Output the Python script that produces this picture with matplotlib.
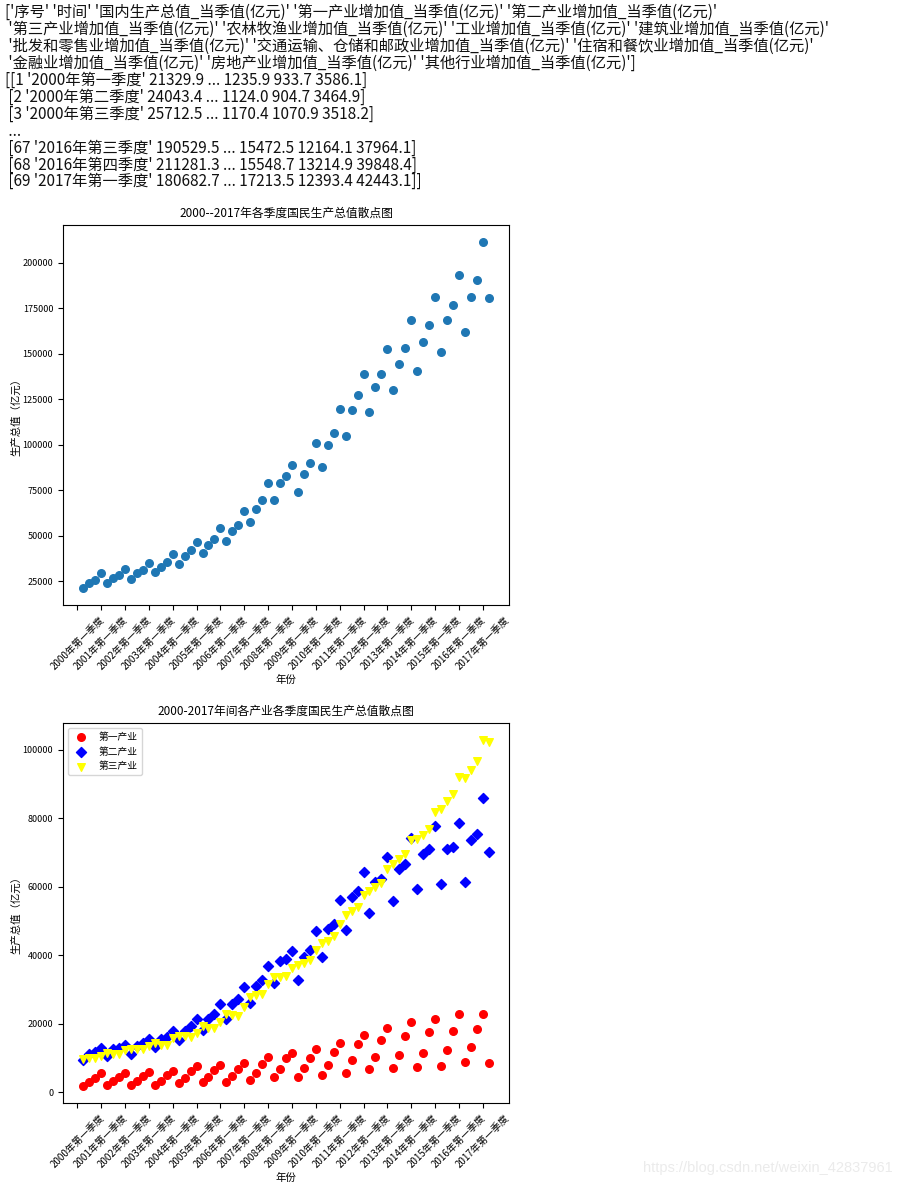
import numpy as np
import matplotlib
matplotlib.use('Agg')
import matplotlib.pyplot as plt

plt.rcParams['font.family'] = ['Noto Sans CJK SC', 'DejaVu Sans']
plt.rcParams['axes.unicode_minus'] = False

# printed output above the charts
header_lines = [
    "['序号' '时间' '国内生产总值_当季值(亿元)' '第一产业增加值_当季值(亿元)' '第二产业增加值_当季值(亿元)'",
    " '第三产业增加值_当季值(亿元)' '农林牧渔业增加值_当季值(亿元)' '工业增加值_当季值(亿元)' '建筑业增加值_当季值(亿元)'",
    " '批发和零售业增加值_当季值(亿元)' '交通运输、仓储和邮政业增加值_当季值(亿元)' '住宿和餐饮业增加值_当季值(亿元)'",
    " '金融业增加值_当季值(亿元)' '房地产业增加值_当季值(亿元)' '其他行业增加值_当季值(亿元)']",
    "[[1 '2000年第一季度' 21329.9 ... 1235.9 933.7 3586.1]",
    " [2 '2000年第二季度' 24043.4 ... 1124.0 904.7 3464.9]",
    " [3 '2000年第三季度' 25712.5 ... 1170.4 1070.9 3518.2]",
    " ...",
    " [67 '2016年第三季度' 190529.5 ... 15472.5 12164.1 37964.1]",
    " [68 '2016年第四季度' 211281.3 ... 15548.7 13214.9 39848.4]",
    " [69 '2017年第一季度' 180682.7 ... 17213.5 12393.4 42443.1]]",
]

# 序号 1..69 (2000Q1 .. 2017Q1)
seq = np.arange(1, 70)

gdp = [21329.9, 24043.4, 25712.5, 29400, 24100, 26860, 28290, 31800,
       26300, 29600, 31250, 35090, 30150, 32900, 35640, 40020,
       34540, 38930, 42210, 46600, 40570, 44960, 48250, 54280,
       47150, 52640, 55920, 63600, 57560, 64690, 69620, 78950,
       69620, 78950, 82790, 88820, 74010, 83890, 89910, 100880,
       87720, 99780, 106360, 119520, 104720, 118970, 127200, 138730,
       117880, 131590, 138730, 152450, 129950, 144220, 153000, 168360,
       140370, 156290, 165620, 180980, 150800, 168360, 176590, 193050,
       161770, 180980, 190529.5, 211281.3, 180682.7]

primary = [1950, 3120, 4290, 5660, 2240, 3410, 4590, 5660,
           2240, 3410, 4880, 5950, 2240, 3410, 5170, 6340,
           2830, 4290, 6340, 7800, 3120, 4590, 6630, 8100,
           3120, 4880, 6930, 8680, 3710, 5760, 8390, 10440,
           4590, 6930, 10150, 11610, 4590, 7220, 10150, 12780,
           5170, 8100, 11900, 14540, 5760, 9560, 14240, 16880,
           6930, 10440, 15410, 18930, 7220, 11020, 16590, 20680,
           7510, 11610, 17760, 21560, 7800, 12490, 18050, 22730,
           8980, 13370, 18630, 23020, 8680]

secondary = [9560, 11320, 11900, 13070, 10730, 12780, 13070, 13950,
             11320, 13660, 14540, 15710, 13370, 15710, 16290, 18050,
             15410, 18050, 19510, 21560, 18340, 21560, 22730, 25660,
             21560, 25660, 27120, 30630, 25950, 30930, 32680, 36780,
             31800, 38240, 38830, 41170, 32680, 39410, 41460, 47020,
             39410, 47610, 49070, 56200, 47320, 57070, 58830, 64390,
             52390, 61320, 62340, 68780, 55900, 65270, 66730, 74340,
             59420, 69660, 71120, 77850, 60880, 71120, 71710, 78730,
             61460, 73760, 75510, 85760, 70240]

tertiary = [9850, 10150, 10150, 10730, 11610, 11320, 11320, 12490,
            12780, 12780, 12780, 13660, 14540, 13950, 13950, 16000,
            16590, 16590, 16290, 17460, 19510, 18930, 18930, 20680,
            22730, 22440, 22150, 24780, 27710, 28290, 28590, 31510,
            33560, 33560, 33850, 36190, 37070, 37660, 38540, 41460,
            43510, 44100, 45560, 49070, 51810, 52980, 54150, 57660,
            58830, 60000, 61170, 65270, 66730, 68190, 69660, 73760,
            74050, 75220, 76970, 81950, 82540, 84880, 86930, 91900,
            91610, 93950, 96590, 102730, 102150]

tick_labels = ['2000年第一季度', '2001年第一季度', '2002年第一季度', '2003年第一季度',
               '2004年第一季度', '2005年第一季度', '2006年第一季度', '2007年第一季度',
               '2008年第一季度', '2009年第一季度', '2010年第一季度', '2011年第一季度',
               '2012年第一季度', '2013年第一季度', '2014年第一季度', '2015年第一季度',
               '2016年第一季度', '2017年第一季度']

W, H = 901, 1188
fig = plt.figure(figsize=(W / 100, H / 100), dpi=100)

for i, line in enumerate(header_lines):
    fig.text(5 / W, 1 - (12.7 + 16.9 * i) / H, line, fontsize=11,
             va='center', ha='left', color='#111111')

ticks = range(0, 70, 4)

# chart 1: GDP
ax1 = fig.add_axes([63 / W, 1 - 605 / H, 446 / W, 380 / H])
ax1.scatter(seq, gdp, s=30)
ax1.set_title('2000--2017年各季度国民生产总值散点图', fontsize=8.5)
ax1.set_xlabel('年份', fontsize=7.5, labelpad=2)
ax1.set_ylabel('生产总值（亿元）', fontsize=7.5, labelpad=1)
ax1.set_xticks(ticks)
ax1.set_xticklabels(tick_labels, rotation=45, fontsize=7)
ax1.tick_params(axis='y', labelsize=6.5)

# chart 2: three industries
ax2 = fig.add_axes([63 / W, 1 - 1103 / H, 446 / W, 380 / H])
ax2.scatter(seq, primary, marker='o', c='red', s=30)
ax2.scatter(seq, secondary, marker='D', c='blue', s=26)
ax2.scatter(seq, tertiary, marker='v', c='yellow', s=30)
ax2.set_title('2000-2017年间各产业各季度国民生产总值散点图', fontsize=8.5)
ax2.set_xlabel('年份', fontsize=7.5, labelpad=2)
ax2.set_ylabel('生产总值（亿元）', fontsize=7.5, labelpad=1)
ax2.set_xticks(ticks)
ax2.set_xticklabels(tick_labels, rotation=45, fontsize=7)
ax2.tick_params(axis='y', labelsize=6.5)
ax2.legend(['第一产业', '第二产业', '第三产业'], loc='upper left', fontsize=7)

fig.text(893 / W, 1 - 1168 / H, 'https://blog.csdn.net/weixin_42837961',
         fontsize=10.5, color='#ebebeb', ha='right', va='center',
         family='Liberation Sans')

fig.savefig('out.png', dpi=100)
